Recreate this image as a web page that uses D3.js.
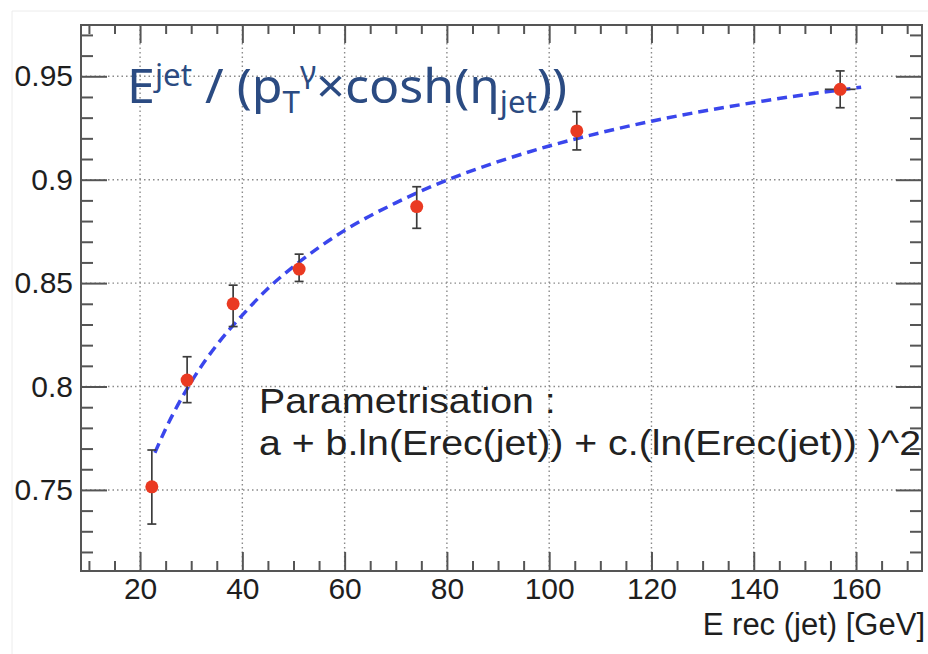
<!DOCTYPE html>
<html>
<head>
<meta charset="utf-8">
<script src="https://cdn.jsdelivr.net/npm/d3@7"></script>
<style>
  body { margin: 0; background: white; }
  svg { display: block; }
</style>
</head>
<body>
<svg id="chart" width="928" height="654"></svg>
<script>
// measured points
const energy = [22.3, 29.2, 38.2, 51.1, 74.1, 105.4, 156.9];
const response = [0.7515, 0.8031, 0.840, 0.8568, 0.887, 0.9236, 0.9437];
const errLow = [0.0180, 0.0109, 0.0110, 0.0060, 0.0105, 0.0092, 0.0089];
const errHigh = [0.0178, 0.0113, 0.0090, 0.0072, 0.0096, 0.0093, 0.0089];
const energyErr = [0, 0, 0, 0, 0, 0, 3.0];

// fitted curve
const fitX = [22.9, 25, 30, 35, 40, 45, 50, 60, 70, 80, 90, 100, 110, 120, 130, 140, 150, 161];
const fitY = [0.768, 0.7795, 0.8022, 0.8201, 0.8345, 0.8474, 0.858, 0.8755, 0.8888, 0.8998,
  0.9087, 0.9163, 0.9227, 0.9283, 0.9331, 0.9373, 0.9411, 0.9447];

const xMajor = [20, 40, 60, 80, 100, 120, 140, 160];
const yMajor = [0.75, 0.8, 0.85, 0.9, 0.95];
const yLabels = ['0.75', '0.8', '0.85', '0.9', '0.95'];

const frame = { left: 81, right: 922, top: 25, bottom: 571 };
const axisColor = '#555';

const svg = d3.select('#chart');

const x = d3.scaleLinear().domain([8.45, 172.9]).range([frame.left, frame.right]);
const y = d3.scaleLinear().domain([0.7108, 0.9748]).range([frame.bottom, frame.top]);

// faint outer border of the picture
svg.append('path')
  .attr('d', 'M12,654 V11 H928')
  .attr('fill', 'none')
  .attr('stroke', '#ececec')
  .attr('stroke-width', 1);

// GRID
const grid = svg.append('g')
  .attr('stroke', '#8a8a8a')
  .attr('stroke-width', 1.4)
  .attr('stroke-dasharray', '1.5 3');
xMajor.forEach(v => {
  grid.append('line')
    .attr('x1', x(v)).attr('x2', x(v))
    .attr('y1', frame.top).attr('y2', frame.bottom);
});
yMajor.forEach(v => {
  grid.append('line')
    .attr('x1', frame.left).attr('x2', frame.right)
    .attr('y1', y(v)).attr('y2', y(v));
});

// AXES (ticks on all four sides, like ROOT)
const xMinor = d3.range(10, 173, 5).filter(v => !xMajor.includes(v));
const yMinor = d3.range(72, 98, 1).map(v => v / 100).filter(v => !yMajor.some(m => Math.abs(m - v) < 1e-6));

const bottomAxis = d3.axisBottom(x).tickValues(xMajor).tickSize(-19).tickFormat(d => d).tickPadding(7);
const bottomMinor = d3.axisBottom(x).tickValues(xMinor).tickSize(-10).tickFormat('');
const topAxis = d3.axisTop(x).tickValues(xMajor).tickSize(-18).tickFormat('');
const topMinor = d3.axisTop(x).tickValues(xMinor).tickSize(-9).tickFormat('');
const leftAxis = d3.axisLeft(y).tickValues(yMajor).tickSize(-26)
  .tickFormat((d, i) => yLabels[i]).tickPadding(8);
const leftMinor = d3.axisLeft(y).tickValues(yMinor).tickSize(-12).tickFormat('');
const rightAxis = d3.axisRight(y).tickValues(yMajor).tickSize(-26).tickFormat('');
const rightMinor = d3.axisRight(y).tickValues(yMinor).tickSize(-12).tickFormat('');

function styleAxis(g) {
  g.select('.domain').remove();
  g.selectAll('.tick line').attr('stroke', axisColor).attr('stroke-width', 2);
  g.selectAll('.tick text')
    .attr('fill', '#1e1e1e')
    .attr('font-family', '"Liberation Sans", Arial, sans-serif')
    .attr('font-size', 30);
}

svg.append('g').attr('transform', `translate(0,${frame.bottom})`).call(bottomAxis).call(styleAxis);
svg.append('g').attr('transform', `translate(0,${frame.bottom})`).call(bottomMinor).call(styleAxis);
svg.append('g').attr('transform', `translate(0,${frame.top})`).call(topAxis).call(styleAxis);
svg.append('g').attr('transform', `translate(0,${frame.top})`).call(topMinor).call(styleAxis);
svg.append('g').attr('transform', `translate(${frame.left},0)`).call(leftAxis).call(styleAxis);
svg.append('g').attr('transform', `translate(${frame.left},0)`).call(leftMinor).call(styleAxis);
svg.append('g').attr('transform', `translate(${frame.right},0)`).call(rightAxis).call(styleAxis);
svg.append('g').attr('transform', `translate(${frame.right},0)`).call(rightMinor).call(styleAxis);

// FRAME
svg.append('rect')
  .attr('x', frame.left).attr('y', frame.top)
  .attr('width', frame.right - frame.left)
  .attr('height', frame.bottom - frame.top)
  .attr('fill', 'none')
  .attr('stroke', axisColor)
  .attr('stroke-width', 2);

// AXIS TITLE
svg.append('text')
  .attr('x', 925).attr('y', 635)
  .attr('text-anchor', 'end')
  .attr('font-family', '"Liberation Sans", Arial, sans-serif')
  .attr('font-size', 31)
  .attr('fill', '#1e1e1e')
  .text('E rec (jet) [GeV]');

// FIT CURVE
const fitLine = d3.line()
  .x(d => x(d[0]))
  .y(d => y(d[1]))
  .curve(d3.curveMonotoneX);
svg.append('path')
  .attr('d', fitLine(d3.zip(fitX, fitY)))
  .attr('fill', 'none')
  .attr('stroke', '#3a46ec')
  .attr('stroke-width', 3.5)
  .attr('stroke-dasharray', '10 6');

// ERROR BARS + MARKERS
const points = energy.map((e, i) => ({
  e, r: response[i], lo: errLow[i], hi: errHigh[i], ex: energyErr[i]
}));
const bars = svg.append('g').attr('stroke', '#3c3c3c').attr('stroke-width', 1.7);
points.forEach(p => {
  bars.append('line')
    .attr('x1', x(p.e)).attr('x2', x(p.e))
    .attr('y1', y(p.r + p.hi)).attr('y2', y(p.r - p.lo));
  [p.r + p.hi, p.r - p.lo].forEach(v => {
    bars.append('line')
      .attr('x1', x(p.e) - 4.5).attr('x2', x(p.e) + 4.5)
      .attr('y1', y(v)).attr('y2', y(v));
  });
  if (p.ex > 0) {
    bars.append('line')
      .attr('x1', x(p.e - p.ex)).attr('x2', x(p.e + p.ex))
      .attr('y1', y(p.r)).attr('y2', y(p.r));
  }
});
svg.append('g')
  .selectAll('circle')
  .data(points)
  .join('circle')
  .attr('cx', d => x(d.e))
  .attr('cy', d => y(d.r))
  .attr('r', 6.5)
  .attr('fill', '#ea3a22');

// TITLE (the reference text is a little wider than the font, so stretch it)
const title = svg.append('text')
  .attr('transform', 'translate(127,103) scale(1.045,1)')
  .attr('font-family', '"Noto Sans", "Open Sans", sans-serif')
  .attr('font-size', 48)
  .attr('fill', '#2b4b82');
title.append('tspan').text('E');
title.append('tspan').attr('font-size', 30).attr('dy', -17).text('jet');
title.append('tspan').attr('dy', 17).text(' / (p');
title.append('tspan').attr('font-size', 30).attr('dy', 10).text('T');
title.append('tspan').attr('font-size', 30).attr('dy', -30).text('γ');
title.append('tspan').attr('dy', 20).text('×cosh(η');
title.append('tspan').attr('font-size', 30).attr('dy', 10).text('jet');
title.append('tspan').attr('dy', -10).text('))');

// PARAMETRISATION NOTE
const note = svg.append('text')
  .attr('transform', 'translate(259,0) scale(1.122,1)')
  .attr('font-family', '"Liberation Sans", Arial, sans-serif')
  .attr('font-size', 35)
  .attr('fill', '#222');
note.append('tspan').attr('x', 0).attr('y', 413).text('Parametrisation :');
note.append('tspan').attr('x', 0).attr('y', 455).text('a + b.ln(Erec(jet)) + c.(ln(Erec(jet)) )^2');
</script>
</body>
</html>
